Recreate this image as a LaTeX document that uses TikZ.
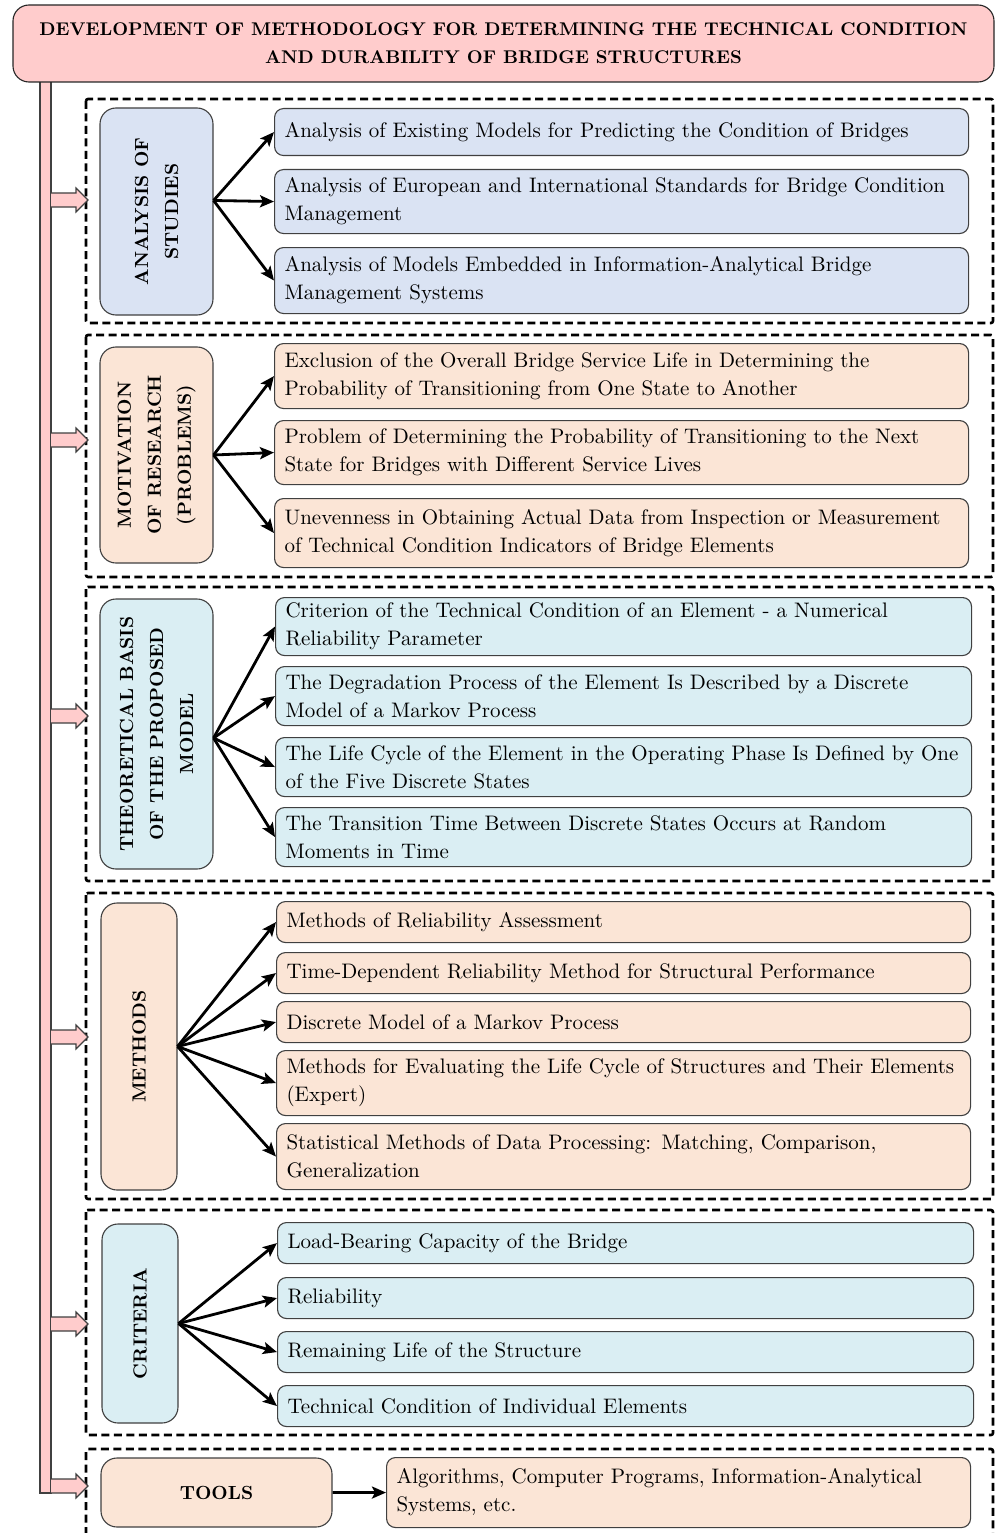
\documentclass[tikz,border=0pt]{standalone}
\usepackage{fontspec}
\setmainfont{lmroman10-regular}[Extension=.otf, BoldFont=lmroman10-bold]
\usetikzlibrary{arrows.meta,calc}
\definecolor{pinkc}{HTML}{FFCCCC}
\definecolor{bluec}{HTML}{DAE3F3}
\definecolor{peachc}{HTML}{FBE5D6}
\definecolor{cyanc}{HTML}{DAEEF3}
\definecolor{edgec}{HTML}{404040}
\begin{document}
\begin{tikzpicture}[x=1pt,y=-1pt,
  itembox/.style={draw=edgec, line width=1.1pt, rounded corners=9pt, anchor=north west,
    align=left, inner xsep=10pt, inner ysep=0pt, font=\fontsize{21}{28}\selectfont},
  catbox/.style={draw=edgec, line width=1.1pt, rounded corners=16pt, align=center,
    inner sep=0pt, font=\bfseries\fontsize{19}{30}\selectfont},
  grp/.style={draw=black, line width=2.6pt, dash pattern=on 8pt off 4.5pt, rounded corners=2pt},
  conn/.style={draw=black, line width=2.8pt, -{Stealth[length=14pt,width=12pt,inset=3pt]}},
  barrow/.style={draw=edgec, fill=pinkc, line width=1.1pt, line join=miter},
  titlebox/.style={draw=black!85, fill=pinkc, line width=1.1pt, rounded corners=16pt,
    align=center, inner sep=0pt, font=\bfseries\fontsize{18.4}{28}\selectfont}
]
\useasboundingbox (0,0) rectangle (995,1533);
\clip (0,0) rectangle (995,1533);

% left bar and title
\draw[barrow] (40,70) rectangle (51,1493);
\node[titlebox, minimum width=981pt, minimum height=77pt] (title) at (503.5,43.5)
  {DEVELOPMENT OF METHODOLOGY FOR DETERMINING THE TECHNICAL CONDITION\\AND DURABILITY OF BRIDGE STRUCTURES};

% dashed group frames
\draw[grp] (86,99) rectangle (993,323);
\draw[grp] (86,335) rectangle (993,577);
\draw[grp] (86,587) rectangle (993,881);
\draw[grp] (86,893) rectangle (993,1199);
\draw[grp] (86,1210) rectangle (993,1435);
\draw[grp] (86,1560) -- (86,1449) -- (993,1449) -- (993,1560);

% block arrows from bar to groups
\foreach \c in {200,440,716,1037,1324,1486}{
  \draw[barrow] (51,\c-7) -- (76,\c-7) -- (76,\c-12) -- (88,\c) -- (76,\c+12) -- (76,\c+7) -- (51,\c+7);
}

% group 1
\node[catbox, fill=bluec, minimum width=207pt, minimum height=113pt, rotate=90] (c1) at (156.5,211.5) {ANALYSIS OF\\STUDIES};
\node[itembox, fill=bluec, text width=674pt, minimum height=47pt] (i11) at (274,108)
  {Analysis of Existing Models for Predicting the Condition of Bridges};
\node[itembox, fill=bluec, text width=674pt, minimum height=64pt] (i12) at (274,169)
  {\mbox{Analysis of European and International Standards for Bridge Condition}\\Management};
\node[itembox, fill=bluec, text width=674pt, minimum height=66pt] (i13) at (274,247)
  {Analysis of Models Embedded in Information-Analytical Bridge\\Management Systems};
\coordinate (o1) at ($(c1.south)+(0,-11)$);
\foreach \t in {i11,i12,i13} \draw[conn] (o1) -- (\t.west);

% group 2
\node[catbox, fill=peachc, minimum width=216pt, minimum height=113pt, rotate=90] (c2) at (156.5,455) {MOTIVATION\\OF RESEARCH\\(PROBLEMS)};
\node[itembox, fill=peachc, text width=674pt, minimum height=65pt] (i21) at (274,343)
  {Exclusion of the Overall Bridge Service Life in Determining the\\Probability of Transitioning from One State to Another};
\node[itembox, fill=peachc, text width=674pt, minimum height=64pt] (i22) at (274,420)
  {\mbox{Problem of Determining the Probability of Transitioning to the Next}\\State for Bridges with Different Service Lives};
\node[itembox, fill=peachc, text width=674pt, minimum height=69pt] (i23) at (274,498)
  {\mbox{Unevenness in Obtaining Actual Data from Inspection or Measurement}\\of Technical Condition Indicators of Bridge Elements};
\foreach \t in {i21,i22,i23} \draw[conn] (c2.south) -- (\t.west);

% group 3
\node[catbox, fill=cyanc, minimum width=270pt, minimum height=113pt, rotate=90] (c3) at (156.5,734) {THEORETICAL BASIS\\OF THE PROPOSED\\MODEL};
\node[itembox, fill=cyanc, text width=676pt, minimum height=58pt] (i31) at (275,597)
  {Criterion of the Technical Condition of an Element - a Numerical\\Reliability Parameter};
\node[itembox, fill=cyanc, text width=676pt, minimum height=59pt] (i32) at (275,666)
  {The Degradation Process of the Element Is Described by a Discrete\\Model of a Markov Process};
\node[itembox, fill=cyanc, text width=676pt, minimum height=59pt] (i33) at (275,737)
  {\mbox{The Life Cycle of the Element in the Operating Phase Is Defined by One}\\of the Five Discrete States};
\node[itembox, fill=cyanc, text width=676pt, minimum height=59pt] (i34) at (275,807)
  {The Transition Time Between Discrete States Occurs at Random\\Moments in Time};
\coordinate (o3) at ($(c3.south)+(0,4)$);
\foreach \t in {i31,i32,i33,i34} \draw[conn] (o3) -- (\t.west);

% group 4
\node[catbox, fill=peachc, minimum width=287pt, minimum height=76pt, rotate=90] (c4) at (139,1046.5) {METHODS};
\node[itembox, fill=peachc, text width=674pt, minimum height=41pt] (i41) at (276,901)
  {Methods of Reliability Assessment};
\node[itembox, fill=peachc, text width=674pt, minimum height=41pt] (i42) at (276,952)
  {Time-Dependent Reliability Method for Structural Performance};
\node[itembox, fill=peachc, text width=674pt, minimum height=41pt] (i43) at (276,1001)
  {Discrete Model of a Markov Process};
\node[itembox, fill=peachc, text width=674pt, minimum height=65pt] (i44) at (276,1050)
  {\mbox{Methods for Evaluating the Life Cycle of Structures and Their Elements}\\(Expert)};
\node[itembox, fill=peachc, text width=674pt, minimum height=66pt] (i45) at (276,1123)
  {Statistical Methods of Data Processing: Matching, Comparison,\\Generalization};
\foreach \t in {i41,i42,i43,i44,i45} \draw[conn] (c4.south) -- (\t.west);

% group 5
\node[catbox, fill=cyanc, minimum width=199pt, minimum height=76pt, rotate=90] (c5) at (140,1323.5) {CRITERIA};
\node[itembox, fill=cyanc, text width=676pt, minimum height=41pt] (i51) at (277,1222)
  {Load-Bearing Capacity of the Bridge};
\node[itembox, fill=cyanc, text width=676pt, minimum height=41pt] (i52) at (277,1277)
  {Reliability};
\node[itembox, fill=cyanc, text width=676pt, minimum height=41pt] (i53) at (277,1331)
  {Remaining Life of the Structure};
\node[itembox, fill=cyanc, text width=676pt, minimum height=41pt] (i54) at (277,1385)
  {Technical Condition of Individual Elements};
\foreach \t in {i51,i52,i53,i54} \draw[conn] (c5.south) -- (\t.west);

% group 6
\node[catbox, fill=peachc, minimum width=231pt, minimum height=69pt] (c6) at (216.5,1492.5) {TOOLS};
\node[itembox, fill=peachc, text width=564pt, minimum height=70pt] (i61) at (386,1457)
  {Algorithms, Computer Programs, Information-Analytical\\Systems, etc.};
\draw[conn] (c6.east) -- (i61.west);
\end{tikzpicture}
\end{document}
